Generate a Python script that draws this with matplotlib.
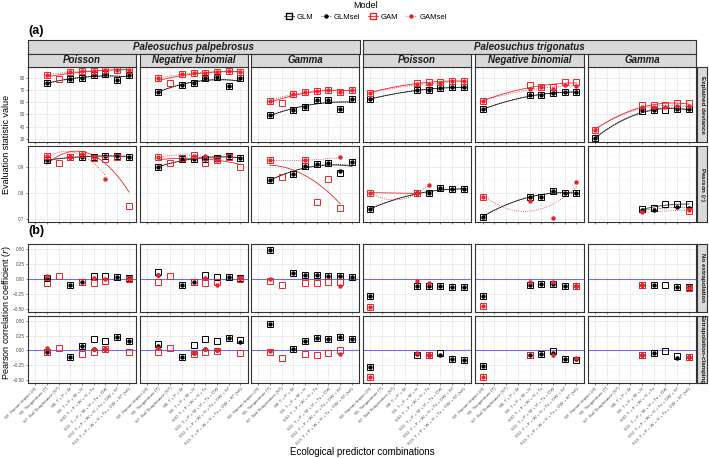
import numpy as np
import matplotlib.pyplot as plt
from matplotlib.lines import Line2D

plt.rcParams['font.family'] = ['Liberation Sans', 'DejaVu Sans']

n = np.nan

combos = ["S2. Human Impact (H)", "S5. Temperature (T)", "S7. Soil Temperature (ST)",
          "S8. T + P + W", "S9. T + P + W + H", "S10. T + P + W + H + Tu",
          "S11. T + P + W + H + Tu + DW", "S12. T + P + W + H + Tu + DW + ST",
          "S13. T + P + W + H + Tu + DW + ST (sel)"]
species = ["Paleosuchus palpebrosus", "Paleosuchus trigonatus"]
families = ["Poisson", "Negative binomial", "Gamma"]
row_names = ["Explained deviance", "Pearson ($r$)", "No extrapolation", "Extrapolation-clamping"]

# one list per panel column: pal-Poisson, pal-NB, pal-Gamma, trig-Poisson, trig-NB, trig-Gamma
dev_glm = [[n, 75.4, n, 78.9, 80.0, 82.2, 82.7, 78.1, 82.2],
           [n, 68.3, n, 74.3, 75.9, 79.5, 80.3, 73.2, 79.5],
           [n, 49.1, n, 53.8, 56.2, 61.4, 61.7, 54.3, 62.5],
           [62.5, n, n, n, 69.9, 70.2, 71.5, 72.1, 72.1],
           [54.0, n, n, n, 65.5, 65.8, 67.2, 68.3, 68.3],
           [30.3, n, n, n, 52.7, 53.2, 53.5, 54.3, 54.3]]
dev_glmsel = [[n, 75.4, n, 78.9, 80.0, 82.2, 82.7, 78.1, 82.2],
              [n, 68.3, n, 74.3, 75.9, 79.5, 80.3, 73.2, 79.5],
              [n, 49.1, n, 53.8, 56.2, 61.4, 61.7, 54.3, 62.5],
              [62.5, n, n, n, 69.9, 70.2, 71.5, 72.1, 72.1],
              [54.0, n, n, n, 65.5, 65.8, 67.2, 68.3, 68.3],
              [30.3, n, n, n, 53.2, 53.2, n, 54.3, 54.3]]
dev_gam = [[n, 82.5, 78.9, 84.6, 85.2, 85.5, 86.3, 86.6, 86.3],
           [n, 79.7, 75.9, 83.3, 83.6, 84.1, 84.6, 85.5, 84.6],
           [n, 61.1, 59.5, 66.6, 68.5, 68.8, 69.6, 68.5, 69.9],
           [67.7, n, n, n, 75.9, 76.2, 76.2, 77.5, 77.5],
           [60.9, n, n, n, 74.0, 72.6, 72.6, 76.2, 76.2],
           [37.4, n, n, n, 57.9, 57.3, 57.3, 59.0, 59.2]]
dev_gamsel = [[n, 82.5, n, 84.6, 85.2, 85.5, 86.3, 86.6, 86.3],
              [n, 79.7, n, 83.3, 83.6, 84.1, 84.6, 85.5, 84.6],
              [n, 61.1, n, 66.6, 68.5, 68.8, 69.6, 68.5, 69.9],
              [67.7, n, n, n, 74.5, 75.0, 75.5, 77.0, 77.0],
              [60.9, n, n, n, 70.4, 72.0, 70.7, 74.0, 73.5],
              [37.4, n, n, n, 56.2, 56.2, 56.2, 56.5, 57.0]]

pr_glm = [[n, .928, n, .939, .941, .941, .945, .946, .941],
          [n, .900, n, .932, .934, .934, .937, .944, .937],
          [n, .851, n, .875, .905, .915, .918, .877, .919],
          [.739, n, n, n, .799, .799, .819, .815, .815],
          [.709, n, n, n, .786, .786, .810, .799, .799],
          [n, n, n, n, .739, .741, .757, .757, .757]]
pr_glmsel = [[n, .928, n, .939, .941, .941, .945, .946, .941],
             [n, .900, n, .932, .934, .934, .937, .944, .937],
             [n, .851, n, .875, .905, .915, .918, .887, .919],
             [.739, n, n, n, .799, .799, .819, .815, .815],
             [.709, n, n, n, .786, .786, .810, .799, .799],
             [n, n, n, n, .735, .735, n, .748, .744]]
pr_gam = [[n, .944, .918, .940, .952, .935, .932, .940, .750],
          [n, .939, .918, .935, .948, .918, .928, .940, .900],
          [n, .928, .863, n, .928, .767, .853, .743, n],
          [.802, n, n, n, .799, n, n, n, n],
          [.786, n, n, n, n, n, n, n, n],
          [n, n, n, n, n, n, n, n, .731]]
pr_gamsel = [[n, .944, n, .940, .952, .940, .855, n, n],
             [n, .939, n, n, .945, .944, .930, n, n],
             [n, .928, n, n, .928, n, n, .939, n],
             [.802, n, n, n, .799, .832, n, n, n],
             [.786, n, n, n, .771, n, .703, n, .845],
             [n, n, n, n, .726, n, n, n, .735]]

ne_glm = [[n, .011, n, -.107, -.045, .056, .045, .028, .011],
          [n, .112, n, -.101, -.045, .062, .039, .034, .011],
          [n, .478, n, .096, .062, .073, .056, .056, .028],
          [-.292, n, n, n, -.124, -.124, -.124, -.129, -.129],
          [-.281, n, n, n, -.096, -.090, -.090, -.112, -.124],
          [n, n, n, n, -.101, -.096, -.107, -.140, -.140]]
ne_glmsel = [[n, .011, n, -.107, -.045, n, n, .028, .011],
             [n, .067, n, -.101, -.045, n, n, .034, .011],
             [n, .478, n, .096, .062, .073, .056, .056, .028],
             [-.292, n, n, n, -.124, -.124, -.124, -.135, -.135],
             [-.281, n, n, n, -.096, -.090, -.090, -.112, -.124],
             [n, n, n, n, -.101, -.096, n, -.140, -.140]]
ne_gam = [[n, -.067, .056, n, -.045, -.062, -.028, n, -.006],
          [n, -.045, .045, n, -.045, -.067, -.056, n, 0.0],
          [n, -.028, -.101, n, -.067, -.067, -.056, -.056, n],
          [-.466, n, n, n, n, n, n, n, n],
          [-.455, n, n, n, n, n, n, n, -.124],
          [n, n, n, n, -.101, n, n, n, -.152]]
ne_gamsel = [[n, .045, n, n, n, .017, 0.0, n, 0.0],
             [n, .067, n, n, n, .017, -.096, n, .011],
             [n, 0.0, n, n, n, n, n, -.112, n],
             [-.466, n, n, n, -.028, -.073, n, n, n],
             [-.455, n, n, n, -.045, n, -.045, n, -.124],
             [n, n, n, n, -.101, n, n, n, -.152]]

ec_glm = [[n, -.020, n, -.118, .080, .184, .163, .221, .163],
          [n, .113, n, -.113, .091, .184, .160, .216, .180],
          [n, .439, n, .016, .163, .210, .184, .230, .190],
          [-.280, n, n, n, -.086, -.075, -.038, -.150, -.161],
          [-.263, n, n, n, -.070, -.054, -.011, -.150, -.156],
          [n, n, n, n, -.081, -.048, -.011, -.102, -.113]]
ec_glmsel = [[n, -.020, n, -.118, .070, .020, .020, .221, .150],
             [n, .075, n, -.113, -.040, .030, 0.0, .216, .134],
             [n, .439, n, .016, .163, .210, .184, .230, .190],
             [-.280, n, n, n, -.065, -.075, -.080, -.150, -.161],
             [-.263, n, n, n, -.070, -.054, -.048, -.150, -.150],
             [n, n, n, n, -.081, -.048, n, -.134, -.113]]
ec_gam = [[n, -.020, .048, n, -.059, -.032, .020, n, -.027],
          [n, -.027, .038, n, -.054, -.032, -.005, n, -.038],
          [n, -.032, -.134, n, -.065, -.070, -.038, .005, n],
          [-.441, n, n, n, n, -.075, n, n, n],
          [-.441, n, n, n, -.070, n, n, n, n],
          [n, n, n, n, -.081, n, n, n, -.113]]
ec_gamsel = [[n, .032, n, n, n, .022, .025, n, n],
             [n, .040, n, n, -.040, .020, 0.0, n, n],
             [n, -.010, n, n, n, n, n, -.059, n],
             [-.441, n, n, n, -.038, -.075, n, n, n],
             [-.441, n, n, n, n, n, -.070, n, -.129],
             [n, n, n, n, -.081, n, n, n, -.113]]

rows = [(dev_glm, dev_glmsel, dev_gam, dev_gamsel),
        (pr_glm, pr_glmsel, pr_gam, pr_gamsel),
        (ne_glm, ne_glmsel, ne_gam, ne_gamsel),
        (ec_glm, ec_glmsel, ec_gam, ec_gamsel)]

RED = "#E8252B"
GREY_TXT = "#4D4D4D"
W, H = 709, 458


def box(x0, y0, x1, y1):
    return [x0 / W, 1 - y1 / H, (x1 - x0) / W, (y1 - y0) / H]


def smooth(ax, vals, color, ls):
    # quadratic smoother through the series (like geom_smooth)
    x = np.arange(1, 10)
    y = np.array(vals, float)
    ok = ~np.isnan(y)
    if ok.sum() < 2:
        return
    c = np.polyfit(x[ok], y[ok], min(2, ok.sum() - 1))
    xs = np.linspace(x[ok].min(), x[ok].max(), 120)
    ax.plot(xs, np.polyval(c, xs), color=color, ls=ls, lw=0.6, zorder=2)


def strip(rect, text, size, rot=0, italic=True):
    s = fig.add_axes(rect)
    s.set_facecolor("#D9D9D9")
    s.set_xticks([]); s.set_yticks([])
    for sp in s.spines.values():
        sp.set_color("#333333"); sp.set_linewidth(0.8)
    s.text(0.5, 0.5, text, ha="center", va="center", rotation=rot, fontsize=size,
           fontweight="bold", fontstyle="italic" if italic else "normal", color="#1A1A1A")


fig = plt.figure(figsize=(7.09, 4.58), dpi=100)

col_x = [28, 139.5, 251, 363, 475.5, 588]
pw = 108
row_y = [(67, 142), (146, 222), (244, 312), (316, 383)]
ylims = [(27.3, 88.8), (0.688, 0.983), (-0.55, 0.58), (-0.55, 0.58)]
yt = [[30, 40, 50, 60, 70, 80], [0.7, 0.8, 0.9], [-0.5, -0.25, 0, 0.25, 0.5], [-0.5, -0.25, 0, 0.25, 0.5]]
ytl = [["30", "40", "50", "60", "70", "80"], ["0.7", "0.8", "0.9"],
       ["\u22120.50", "\u22120.25", "0.00", "0.25", "0.50"], ["\u22120.50", "\u22120.25", "0.00", "0.25", "0.50"]]
ymin = [[35, 45, 55, 65, 75, 85], [0.75, 0.85, 0.95],
        [-0.375, -0.125, 0.125, 0.375], [-0.375, -0.125, 0.125, 0.375]]

xpos = np.arange(1, 10)
for r in range(4):
    glm, glmsel, gam, gamsel = rows[r]
    y0, y1 = row_y[r]
    for c in range(6):
        ax = fig.add_axes(box(col_x[c], y0, col_x[c] + pw, y1))
        ax.set_xlim(0.4, 9.6)
        ax.set_ylim(*ylims[r])
        ax.set_xticks(xpos)
        ax.set_yticks(yt[r])
        ax.set_yticks(ymin[r], minor=True)
        ax.grid(True, which="major", color="#E6E6E6", lw=0.5)
        ax.grid(True, which="minor", axis="y", color="#F2F2F2", lw=0.3)
        ax.set_axisbelow(True)
        for sp in ax.spines.values():
            sp.set_color("#333333"); sp.set_linewidth(0.8)
        ax.tick_params(length=1.5, width=0.4, color="#333333", labelsize=3.3, labelcolor=GREY_TXT, pad=1)
        ax.tick_params(which="minor", length=0)
        if c == 0:
            ax.set_yticklabels(ytl[r])
        else:
            ax.tick_params(axis="y", length=0, labelleft=False)
        if r == 3:
            ax.set_xticklabels(combos, rotation=45, ha="right", rotation_mode="anchor", fontsize=3.2)
        else:
            ax.tick_params(axis="x", labelbottom=False)
        if r >= 2:
            ax.axhline(0, color="#7070E0", lw=0.8, zorder=1)
        else:
            smooth(ax, glm[c], "#333333", "-")
            smooth(ax, glmsel[c], "black", ":")
            smooth(ax, gam[c], RED, "-")
            smooth(ax, gamsel[c], RED, ":")
        ax.plot(xpos, glm[c], ls="none", marker="s", ms=5, mfc="none", mec="black", mew=0.7, zorder=3)
        ax.plot(xpos, glmsel[c], ls="none", marker="o", ms=2.2, color="black", zorder=4)
        ax.plot(xpos, gam[c], ls="none", marker="s", ms=5, mfc="none", mec=RED, mew=0.7, zorder=5)
        ax.plot(xpos, gamsel[c], ls="none", marker="o", ms=2.2, color=RED, zorder=6)
    strip(box(697, y0, 707, y1), row_names[r], 4.5, rot=270, italic=False)

# top strips
strip(box(28, 40, 359.5, 53.5), species[0], 7)
strip(box(363, 40, 696, 53.5), species[1], 7)
for c in range(6):
    strip(box(col_x[c], 54, col_x[c] + pw, 66.5), families[c % 3], 7)

fig.text(28 / W, 1 - 31 / H, "(a)", fontsize=9, fontweight="bold", va="center")
fig.text(28 / W, 1 - 231 / H, "(b)", fontsize=9, fontweight="bold", va="center")
fig.text(6.5 / W, 1 - 144 / H, "Evaluation statistic value", rotation=90, ha="center", va="center", fontsize=6.5)
fig.text(6.5 / W, 1 - 313 / H, "Pearson correlation coefficient ($r$)", rotation=90,
         ha="center", va="center", fontsize=6.5)
fig.text(362 / W, 1 - 452 / H, "Ecological predictor combinations", ha="center", va="center", fontsize=7)

handles = [Line2D([0], [0], color="#333333", lw=0.6, marker="s", ms=5, mfc="none", mec="black", label="GLM"),
           Line2D([0], [0], color="black", lw=0.6, ls=":", marker="o", ms=2.2, label="GLMsel"),
           Line2D([0], [0], color=RED, lw=0.6, marker="s", ms=5, mfc="none", mec=RED, label="GAM"),
           Line2D([0], [0], color=RED, lw=0.6, ls=":", marker="o", ms=2.2, label="GAMsel")]
leg = fig.legend(handles=handles, ncol=4, loc="upper center", bbox_to_anchor=(0.515, 1.01),
                 frameon=False, title="Model", fontsize=5.5, title_fontsize=6.5,
                 handlelength=1.3, columnspacing=1.0, handletextpad=0.4, borderpad=0.2)

fig.savefig("out.png", dpi=100)
